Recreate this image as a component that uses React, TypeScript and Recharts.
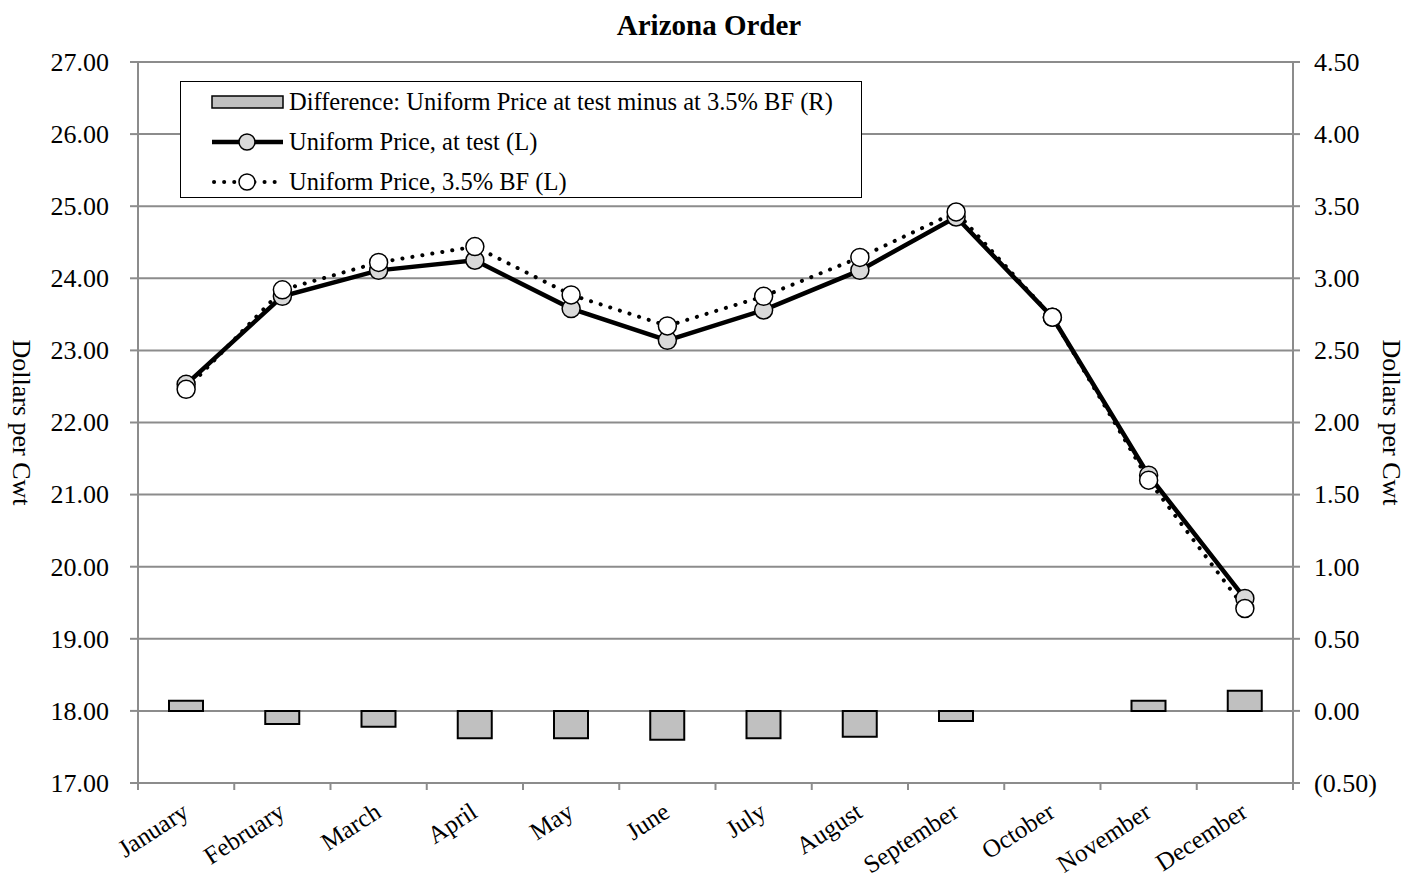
import React from 'react';
import { ComposedChart, Bar, Line, XAxis, YAxis, CartesianGrid, Legend } from 'recharts';

const months = ['January', 'February', 'March', 'April', 'May', 'June', 'July', 'August', 'September', 'October', 'November', 'December'];
const diffValues = [0.07, -0.09, -0.11, -0.19, -0.19, -0.2, -0.19, -0.18, -0.07, 0.0, 0.07, 0.14];
const testPrices = [22.53, 23.75, 24.11, 24.25, 23.58, 23.14, 23.56, 24.11, 24.85, 23.46, 21.27, 19.56];
const bfPrices = [22.46, 23.84, 24.22, 24.44, 23.77, 23.34, 23.75, 24.29, 24.92, 23.46, 21.2, 19.42];
const leftTicks = [17, 18, 19, 20, 21, 22, 23, 24, 25, 26, 27];
const rightTicks = [-0.5, 0, 0.5, 1, 1.5, 2, 2.5, 3, 3.5, 4, 4.5];

const seriesNames = {
  diff: 'Difference: Uniform Price at test minus at 3.5% BF (R)',
  test: 'Uniform Price, at test (L)',
  bf: 'Uniform Price, 3.5% BF (L)',
};

const data = months.map((m, i) => ({ month: m, diff: diffValues[i], test: testPrices[i], bf: bfPrices[i] }));

const FONT = '"Liberation Serif", "Times New Roman", serif';
const GRID = '#8c8c8c';

const XTick = (props: any) => {
  const { x, y, payload, index } = props;
  const half = payload && typeof payload.offset === 'number' ? payload.offset : 48.1;
  return (
    <g>
      <line x1={x - half} y1={y} x2={x - half} y2={y + 7} stroke={GRID} strokeWidth={2} />
      {index === months.length - 1 && (
        <line x1={x + half} y1={y} x2={x + half} y2={y + 7} stroke={GRID} strokeWidth={2} />
      )}
      <g transform={`translate(${x + 4},${y + 33}) rotate(-33)`}>
        <text x={0} y={0} textAnchor="end" fontFamily={FONT} fontSize={25} fill="#000">
          {payload.value}
        </text>
      </g>
    </g>
  );
};

const LeftTick = (props: any) => {
  const { x, y, payload } = props;
  return (
    <text x={x} y={y} dy="0.34em" textAnchor="end" fontFamily={FONT} fontSize={26} fill="#000">
      {Number(payload.value).toFixed(2)}
    </text>
  );
};

const RightTick = (props: any) => {
  const { x, y, payload } = props;
  const v = Number(payload.value);
  const s = v < 0 ? `(${Math.abs(v).toFixed(2)})` : v.toFixed(2);
  return (
    <text x={x} y={y} dy="0.34em" textAnchor="start" fontFamily={FONT} fontSize={26} fill="#000">
      {s}
    </text>
  );
};

const LegendBox = () => (
  <div
    style={{
      width: 682,
      height: 117,
      border: '1.5px solid #000',
      background: '#fff',
      boxSizing: 'border-box',
      fontFamily: FONT,
      fontSize: 24.5,
      color: '#000',
      position: 'relative',
    }}
  >
    {[0, 1, 2].map((row) => (
      <div
        key={row}
        style={{ position: 'absolute', left: 30, top: row * 40, height: 40, display: 'flex', alignItems: 'center', whiteSpace: 'nowrap' }}
      >
        <svg width={74} height={24} style={{ marginRight: 4 }}>
          {row === 0 && <rect x={1} y={6} width={71} height={12} fill="#c0c0c0" stroke="#000" strokeWidth={1.5} />}
          {row === 1 && (
            <g>
              <line x1={1} y1={12} x2={72} y2={12} stroke="#000" strokeWidth={4.5} />
              <circle cx={36} cy={12} r={8} fill="#d9d9d9" stroke="#000" strokeWidth={1.5} />
            </g>
          )}
          {row === 2 && (
            <g>
              <line x1={3} y1={12} x2={72} y2={12} stroke="#000" strokeWidth={4} strokeDasharray="0.1 10" strokeLinecap="round" />
              <circle cx={36} cy={12} r={8} fill="#fff" stroke="#000" strokeWidth={1.5} />
            </g>
          )}
        </svg>
        <span>{row === 0 ? seriesNames.diff : row === 1 ? seriesNames.test : seriesNames.bf}</span>
      </div>
    ))}
  </div>
);

const leftLabel = (p: any) => {
  const vb = p.viewBox || { x: 0, y: 62, width: 138, height: 721 };
  const cx = vb.x + 22;
  const cy = vb.y + vb.height / 2;
  return (
    <text x={cx} y={cy} transform={`rotate(90 ${cx} ${cy})`} textAnchor="middle" dy="0.34em" fontFamily={FONT} fontSize={26} fill="#000">
      Dollars per Cwt
    </text>
  );
};

const rightLabel = (p: any) => {
  const vb = p.viewBox || { x: 1293, y: 62, width: 113, height: 721 };
  const cx = vb.x + vb.width - 14;
  const cy = vb.y + vb.height / 2;
  return (
    <text x={cx} y={cy} transform={`rotate(90 ${cx} ${cy})`} textAnchor="middle" dy="0.34em" fontFamily={FONT} fontSize={26} fill="#000">
      Dollars per Cwt
    </text>
  );
};

export default function App() {
  return (
    <div style={{ position: 'absolute', left: 0, top: 0, width: 1406, height: 880, background: '#fff' }}>
      <div
        style={{
          position: 'absolute',
          left: 6,
          top: 10,
          width: 1406,
          textAlign: 'center',
          fontFamily: FONT,
          fontWeight: 'bold',
          fontSize: 29,
          lineHeight: '30px',
          color: '#000',
          zIndex: 2,
        }}
      >
        Arizona Order
      </div>
      <ComposedChart width={1406} height={880} data={data} margin={{ top: 62, right: 0, bottom: 0, left: 0 }}>
        <CartesianGrid yAxisId="left" horizontal vertical={false} stroke={GRID} strokeWidth={2} ticks={leftTicks as any} />
        <XAxis
          dataKey="month"
          height={97}
          interval={0}
          tickLine={false}
          tickSize={0}
          tickMargin={0}
          axisLine={{ stroke: GRID, strokeWidth: 2 }}
          tick={<XTick />}
        />
        <YAxis
          yAxisId="left"
          orientation="left"
          width={138}
          domain={[17, 27]}
          ticks={leftTicks}
          interval={0}
          allowDataOverflow
          tickSize={8}
          tickMargin={21}
          tickLine={{ stroke: GRID, strokeWidth: 2 }}
          axisLine={{ stroke: GRID, strokeWidth: 2 }}
          tick={<LeftTick />}
          label={{ content: leftLabel } as any}
        />
        <YAxis
          yAxisId="right"
          orientation="right"
          width={113}
          domain={[-0.5, 4.5]}
          ticks={rightTicks}
          interval={0}
          allowDataOverflow
          tickSize={7}
          tickMargin={14}
          tickLine={{ stroke: GRID, strokeWidth: 2 }}
          axisLine={{ stroke: GRID, strokeWidth: 2 }}
          tick={<RightTick />}
          label={{ content: rightLabel } as any}
        />
        <Legend
          layout="horizontal"
          verticalAlign="middle"
          align="center"
          content={() => <LegendBox />}
          wrapperStyle={{ position: 'absolute', left: 180, top: 81, width: 682, height: 117 }}
        />
        <Bar yAxisId="right" dataKey="diff" name={seriesNames.diff} barSize={34} fill="#c0c0c0" stroke="#000" strokeWidth={2} isAnimationActive={false} />
        <Line
          yAxisId="left"
          dataKey="test"
          name={seriesNames.test}
          stroke="#000"
          strokeWidth={4.5}
          dot={{ r: 9, fill: '#d9d9d9', stroke: '#000', strokeWidth: 1.5 }}
          activeDot={false}
          isAnimationActive={false}
        />
        <Line
          yAxisId="left"
          dataKey="bf"
          name={seriesNames.bf}
          stroke="#000"
          strokeWidth={4}
          strokeDasharray="0.1 10"
          strokeLinecap="round"
          dot={{ r: 9, fill: '#fff', stroke: '#000', strokeWidth: 1.5, strokeDasharray: '' }}
          activeDot={false}
          isAnimationActive={false}
        />
      </ComposedChart>
    </div>
  );
}
